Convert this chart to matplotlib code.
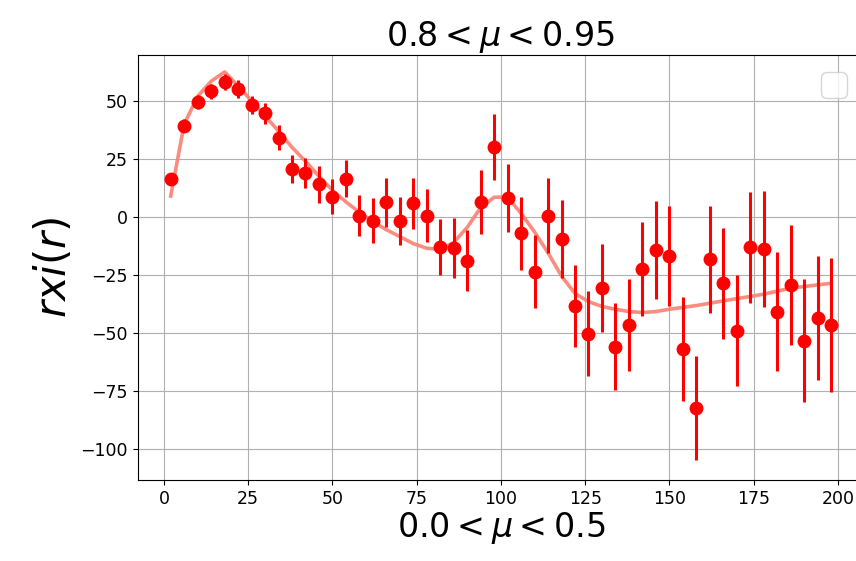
import matplotlib
matplotlib.use('Agg')
from matplotlib import pyplot as plt

# separations r
r = [2, 6, 10, 14, 18, 22, 26, 30, 34, 38, 42, 46, 50, 54, 58, 62, 66, 70, 74, 78,
     82, 86, 90, 94, 98, 102, 106, 110, 114, 118, 122, 126, 130, 134, 138, 142, 146, 150, 154, 158,
     162, 166, 170, 174, 178, 182, 186, 190, 194, 198]

# measured r*xi(r)
rxi = [16.2, 39.2, 49.7, 54.2, 58.0, 55.2, 48.3, 44.7, 34.2, 20.5,
       19.0, 14.1, 8.8, 16.4, 0.6, -1.7, 6.3, -1.7, 5.9, 0.6,
       -13.1, -13.5, -18.8, 6.3, 30.3, 8.0, -7.0, -23.6, 0.6, -9.5,
       -38.4, -50.4, -30.7, -55.9, -46.6, -22.6, -14.2, -16.8, -57.0, -82.5,
       -18.2, -28.6, -49.0, -13.1, -13.8, -40.8, -29.3, -53.3, -43.7, -46.6]

err = [2.5, 2.8, 3.0, 3.2, 3.5, 3.8, 4.0, 4.5, 5.4, 6.0,
       6.5, 8.0, 7.5, 8.0, 9.0, 9.7, 10.5, 10.4, 11.0, 11.5,
       12.0, 13.0, 13.0, 13.8, 14.2, 14.6, 15.8, 15.8, 16.3, 17.0,
       17.6, 18.3, 19.0, 18.8, 19.8, 20.3, 21.2, 21.6, 22.3, 22.4,
       23.0, 24.0, 24.0, 24.0, 25.0, 25.6, 26.0, 26.6, 26.8, 29.0]

# model curve
model = [9.0, 40.0, 52.0, 58.5, 62.5, 56.5, 50.0, 43.5, 37.0, 30.0,
         24.0, 17.5, 11.5, 6.5, 2.0, -2.0, -5.5, -8.5, -11.5, -13.5,
         -14.0, -11.0, -4.5, 4.0, 8.5, 8.5, 1.5, -6.5, -15.5, -25.5,
         -33.0, -36.5, -38.6, -39.8, -40.8, -41.2, -40.8, -39.8, -39.0, -38.2,
         -37.2, -36.2, -35.2, -34.3, -33.3, -32.0, -30.7, -30.0, -29.3, -28.6]

plt.rcParams['font.size'] = 12.5
fig = plt.figure(figsize=(8.56, 5.61), dpi=100)
ax = fig.add_axes([137.7 / 856, 1 - 480 / 561, (864.1 - 137.7) / 856, (480 - 55) / 561])

ax.plot(r, model, color='salmon', linewidth=2.6, alpha=0.9)
ax.errorbar(r, rxi, yerr=err, fmt='o', color='red', markersize=9, elinewidth=2.2)

ax.set_xlim(-7.8, 207.8)
ax.set_ylim(-113.4, 69.8)
ax.grid(True)
ax.set_title(r'$0.8<\mu<0.95$', fontsize=24)
ax.set_xlabel(r'$0.0<\mu<0.5$', fontsize=24, labelpad=2)
ax.set_ylabel(r'$rxi(r)$', fontsize=30)
ax.legend(fontsize=24, loc='upper right')

fig.savefig('out.png', dpi=100)
